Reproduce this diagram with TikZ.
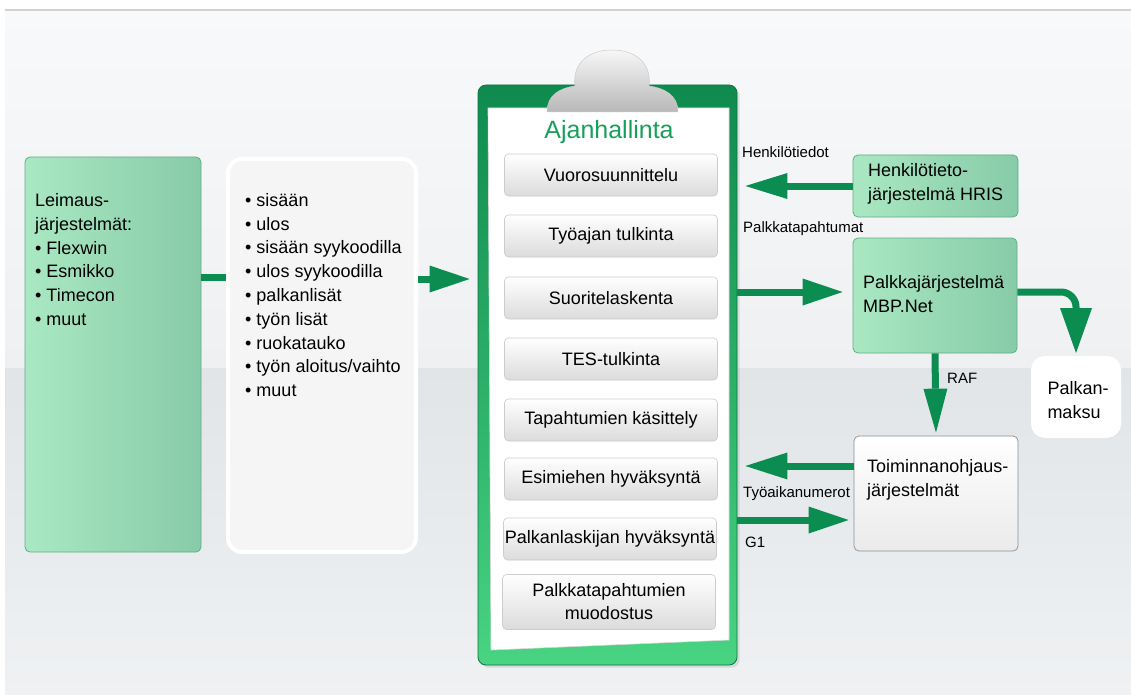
\documentclass[tikz,border=0pt]{standalone}
\usepackage{fontspec}
\setmainfont{Liberation Sans}
\usetikzlibrary{arrows.meta,shadows,calc}
\definecolor{gline}{HTML}{0B8C50}
\definecolor{gdark}{HTML}{0E8A4E}
\definecolor{glight}{HTML}{48D482}
\definecolor{mint1}{HTML}{A9E8C2}
\definecolor{mint2}{HTML}{88CBA8}
\definecolor{mintb}{HTML}{5EAF86}
\definecolor{titleg}{HTML}{18A05A}
\definecolor{bgtop1}{HTML}{F8F9FA}
\definecolor{bgtop2}{HTML}{EEF0F2}
\definecolor{bglow1}{HTML}{E1E5E8}
\definecolor{bglow2}{HTML}{EFF1F3}
\begin{document}
\begin{tikzpicture}[x=1pt,y=-1pt,
  txt/.style={font=\fontsize{18}{23.8}\selectfont, align=left, inner sep=0pt, anchor=west},
  lbl/.style={font=\fontsize{15}{18}\selectfont, inner sep=0pt, anchor=west},
  gbox/.style={draw=mintb, line width=0.8pt, rounded corners=5pt, left color=mint1, right color=mint2},
  wbox/.style={draw=white, line width=4pt, rounded corners=14pt, fill=black!4, drop shadow={opacity=0.18, shadow xshift=1pt, shadow yshift=-2pt}},
  pbox/.style={draw=white, line width=4pt, rounded corners=12pt, fill=white, drop shadow={opacity=0.18, shadow xshift=1pt, shadow yshift=-2pt}},
  tbox/.style={draw=black!45, line width=0.7pt, rounded corners=5pt, top color=white, bottom color=black!8},
  btn/.style={draw=black!20, line width=0.6pt, rounded corners=4pt, top color=white, bottom color=black!14,
    minimum width=213pt, minimum height=42pt, font=\fontsize{18}{23}\selectfont, align=center, inner sep=0pt},
  garrow/.style={draw=gline, line width=7pt, -{Triangle[length=40pt,width=27pt,line width=0pt]}},
  gplain/.style={draw=gline, line width=7pt},
]
\useasboundingbox (0,0) rectangle (1131,695);
% background
\fill[white] (0,0) rectangle (1131,695);
\shade[top color=bgtop1, bottom color=bgtop2] (5,10) rectangle (1131,368);
\shade[top color=bglow1, bottom color=bglow2] (5,368) rectangle (1131,695);
\draw[black!18, line width=1.5pt] (5,10) -- (1131,10);

% coordinates for connector heights
\coordinate (c1) at (0,277);
\coordinate (c2) at (0,279);
\coordinate (pk) at (0,292);
\coordinate (ty) at (0,466);
\coordinate (gy) at (0,520);

% left boxes
\node[gbox, minimum width=176pt, minimum height=395pt] (lbox) at (113,354.5) {};
\node[txt] (ltext) at (35,259.5) {Leimaus-\\järjestelmät:\\• Flexwin\\• Esmikko\\• Timecon\\• muut};
\node[wbox, minimum width=188pt, minimum height=393pt] (wbox) at (322,355.5) {};
\node[txt] (wtext) at (245,295) {• sisään\\• ulos\\• sisään syykoodilla\\• ulos syykoodilla\\• palkanlisät\\• työn lisät\\• ruokatauko\\• työn aloitus/vaihto\\• muut};

% clipboard
\node[draw=gdark!85!black, line width=0.8pt, rounded corners=8pt, top color=gdark, bottom color=glight,
  minimum width=259pt, minimum height=580pt, drop shadow={opacity=0.2}] (board) at (607.5,375) {};
\filldraw[fill=white, draw=black!15, line width=0.6pt] (488,108) -- (729,108) -- (729,640) -- (491,650) -- cycle;
\shade[top color=black!3, bottom color=black!28, draw=black!20, line width=0.5pt]
  (547,112) .. controls (547,95) and (560,88) .. (575,86)
  .. controls (572,62) and (590,50) .. (612,50)
  .. controls (634,50) and (652,62) .. (649,86)
  .. controls (664,88) and (678,95) .. (678,112) -- cycle;
\node[font=\fontsize{25}{28}\selectfont, text=titleg, inner sep=0pt] (title) at (609,132) {Ajanhallinta};

\node[btn] (b1) at (611,175) {Vuorosuunnittelu};
\node[btn] (b2) at (611,236) {Työajan tulkinta};
\node[btn] (b3) at (611,298) {Suoritelaskenta};
\node[btn] (b4) at (611,359) {TES-tulkinta};
\node[btn] (b5) at (611,420) {Tapahtumien käsittely};
\node[btn] (b6) at (611,479) {Esimiehen hyväksyntä};
\node[btn] (b7) at (610,539) {Palkanlaskijan hyväksyntä};
\node[btn, minimum height=55pt] (b8) at (609,602) {Palkkatapahtumien\\muodostus};

% right boxes
\node[gbox, minimum width=165pt, minimum height=62pt] (hris) at (935.5,186) {};
\node[txt] (hrist) at (868,184) {Henkilötieto-\\järjestelmä HRIS};
\node[gbox, minimum width=164pt, minimum height=115pt] (palkka) at (935,295.5) {};
\node[txt] (palkkat) at (863,294) {Palkkajärjestelmä\\MBP.Net};
\node[pbox, minimum width=86pt, minimum height=78pt] (pm) at (1076,397) {};
\node[font=\fontsize{18}{23.8}\selectfont, align=left, inner sep=0pt] (pmt) at (1078,400) {Palkan-\\maksu};
\node[tbox, minimum width=164pt, minimum height=115pt] (toim) at (936,493.5) {};
\node[txt] (toimt) at (867,480) {Toiminnanohjaus-\\järjestelmät};

% labels
\node[lbl] (l1) at (742,152) {Henkilötiedot};
\node[lbl] (l2) at (743,229) {Palkkatapahtumat};
\node[lbl] (l3) at (947,378) {RAF};
\node[lbl] (l4) at (743,494) {Työaikanumerot};
\node[lbl] (l5) at (745,542) {G1};

% connectors
\draw[gplain] (lbox.east |- c1) -- (wbox.west |- c1);
\draw[garrow, shorten >=8pt] (wbox.east |- c2) -- (board.west |- c2);
\draw[garrow, -{Triangle[length=42pt,width=26pt,line width=0pt]}, shorten >=8pt] (hris.west) -- (board.east |- hris.west);
\draw[garrow, shorten >=10pt] (board.east |- pk) -- (palkka.west |- pk);
\draw[garrow, rounded corners=15pt, -{Triangle[length=45pt,width=32pt,line width=0pt]}, shorten >=3pt] (palkka.east |- pk) -| (pm.north);
\draw[garrow, -{Triangle[length=44pt,width=24pt,line width=0pt]}, shorten >=3pt] (palkka.south) -- (toim.north);
\draw[garrow, -{Triangle[length=42pt,width=27pt,line width=0pt]}, shorten >=8pt] (toim.west |- ty) -- (board.east |- ty);
\draw[garrow, shorten >=5pt] (board.east |- gy) -- (toim.west |- gy);
\end{tikzpicture}
\end{document}
